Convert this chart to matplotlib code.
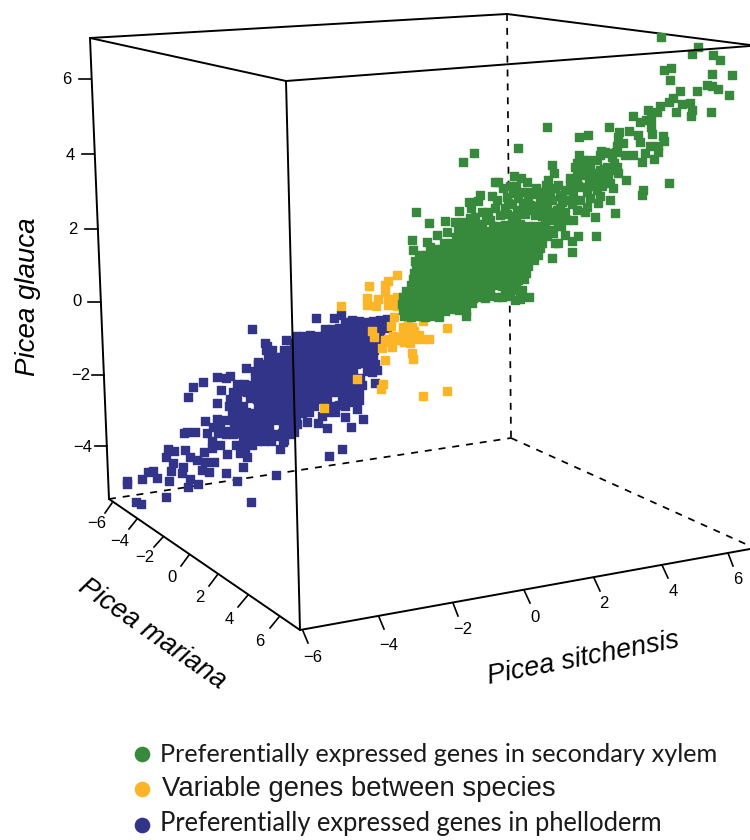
import matplotlib
matplotlib.use('Agg')
import matplotlib.pyplot as plt

# colours
GREEN = '#378A3C'
ORANGE = '#FDB528'
BLUE = '#32348A'

# points (horizontal, vertical position in the panel)
green_sparse = [
    (661,37),(698,47),(692,54),(713,55),(720,60),(671,68),(664,70),(712,74),(732,75),(670,80),
    (707,85),(712,86),(718,89),(697,91),(680,91),(729,95),(673,98),(669,102),(660,106),(682,104),
    (690,103),(692,110),(691,116),(711,112),(676,112),(657,112),(648,110),(633,116),(640,122),(651,119),
    (646,120),(651,127),(652,134),(609,127),(629,131),(619,132),(618,137),(638,135),(663,136),(664,141),
    (547,127),(588,135),(579,137),(518,148),(474,153),(463,162),(623,143),(617,146),(640,142),(650,146),
    (658,146),(601,151),(608,153),(625,155),(633,155),(645,153),(658,152),(654,159),(642,162),(579,155),
    (589,160),(552,165),(577,163),(600,155),(605,152),(612,157),(616,152),(597,160),(583,160),(614,163),
    (495,182),(498,182),(514,176),(521,178),(527,182),(536,188),(548,180),(554,173),(546,185),(570,178),
    (575,167),(583,175),(590,167),(593,175),(607,167),(617,167),(618,173),(626,180),(604,177),(610,183),
    (597,190),(613,188),(582,187),(589,183),(577,179),(565,190),(555,188),(550,193),(573,193),(580,200),
    (568,200),(562,202),(587,207),(577,210),(565,212),(557,210),(547,207),(540,210),(530,205),(523,203),
    (598,203),(610,200),(595,217),(615,213),(596,236),(578,236),(572,241),(572,252),(552,258),(565,235),
    (555,243),(558,243),(553,233),(567,220),(553,220),(545,223),(573,220),(643,190),(642,195),(669,183),
    (513,193),(507,197),(522,192),(528,192),(492,196),(480,195),(478,201),(469,202),(471,208),(459,211),
    (497,200),(495,208),(508,203),(517,210),(500,215),(475,217),(462,222),(445,221),(429,223),(416,212),
    (437,235),(447,232),(458,228),(412,240),(413,250),(427,242),(430,247),(529,297),(520,299),(515,300),
    (498,297),(485,298),(477,290),(600,170),(608,174),(586,168),(596,181),(602,186),(560,196),(572,204),
    (540,198),(535,215),(525,214),(512,218),(490,220),(482,224),(505,225),(520,224),(535,226),(548,214),
    (584,170),(591,174),(598,173),(604,169),(611,170),(577,172),(570,184),(578,186),(587,192),(593,186),
    (600,196),(590,198),(558,185),(562,195),(552,200),(543,192),(535,194),(528,199),(518,198),(503,188),
    (510,186),(516,186),(505,208),(512,204),(488,212),(482,212),(470,218),(467,224),(455,222),(542,216),
    (530,210),(560,208),(548,200),(538,206),(516,216),(523,208),(507,214),(493,226),(486,216),(575,200),
    (585,212),(558,218),(561,226),(552,212),
]

green_core = [
    (404,316),(411,317),(418,316),(425,317),(432,316),(439,317),(466,316),
    (403,310),(410,310),(417,309),(424,311),(431,310),(438,310),(445,311),(452,309),(459,310),(466,311),
    (402,304),(409,303),(416,304),(423,304),(430,303),(437,305),(444,304),(451,303),(458,304),(465,304),(472,303),
    (403,297),(410,298),(417,297),(424,298),(431,297),(438,298),(445,297),(452,297),(459,298),(466,297),(473,298),(480,297),(490,296),(502,297),(510,296),
    (406,291),(413,291),(420,292),(427,291),(434,291),(441,292),(448,291),(455,291),(462,292),(469,291),(476,291),(483,292),(490,291),(505,291),(513,290),(522,290),
    (411,285),(418,285),(425,285),(432,286),(439,285),(446,285),(453,285),(460,286),(467,285),(474,285),(481,286),(488,285),(495,285),(502,286),(509,285),(516,285),
    (413,279),(420,279),(427,280),(434,279),(441,279),(448,280),(455,279),(462,279),(469,280),(476,279),(483,279),(490,279),(497,280),(504,279),(511,279),(518,280),(524,279),
    (414,273),(421,273),(428,274),(435,273),(442,273),(449,273),(456,274),(463,273),(470,273),(477,274),(484,273),(491,273),(498,273),(505,274),(512,273),(519,273),(526,273),
    (416,267),(423,267),(430,267),(437,268),(444,267),(451,267),(458,267),(465,268),(472,267),(479,267),(486,268),(493,267),(500,267),(507,267),(514,268),(521,267),(528,266),
    (415,261),(422,261),(429,261),(436,261),(443,262),(450,261),(457,261),(464,261),(471,262),(478,261),(485,261),(492,261),(499,262),(506,261),(513,261),(520,261),(527,262),(534,260),
    (419,255),(426,255),(433,255),(440,256),(447,255),(454,255),(461,255),(468,255),(475,256),(482,255),(489,255),(496,255),(503,255),(510,256),(517,255),(524,255),(531,255),(538,255),
    (435,249),(442,249),(449,249),(456,250),(463,249),(470,249),(477,249),(484,250),(491,249),(498,249),(505,249),(512,250),(519,249),(526,249),(533,249),(540,248),
    (444,243),(451,243),(458,243),(465,244),(472,243),(479,243),(486,243),(493,244),(500,243),(507,243),(514,243),(521,243),(528,243),(535,243),(542,243),
    (456,237),(463,237),(470,237),(477,238),(484,237),(491,237),(498,237),(505,238),(512,237),(519,237),(526,237),(533,237),(540,236),(547,236),
    (466,231),(473,231),(480,231),(487,231),(494,232),(501,231),(508,231),(515,231),(522,232),(529,231),(536,231),(543,231),(550,230),
    (476,225),(497,226),(511,227),(528,226),(542,226),(558,226),
]

orange_points = [
    (397,275),(369,286),(388,281),(385,285),(385,292),(367,298),(367,305),(378,299),(376,306),(388,299),
    (388,305),(397,297),(397,306),(341,306),(394,317),(391,326),(423,321),(447,328),(408,325),(403,332),
    (413,333),(419,335),(408,335),(398,337),(388,339),(385,340),(423,339),(429,339),(398,340),(410,343),
    (392,347),(382,348),(412,353),(413,359),(385,360),(372,331),(374,337),(357,379),(383,384),(381,389),
    (423,396),(447,391),(407,330),(412,327),(403,327),(324,408),(393,336),(402,338),(416,339),(391,342),
    (404,342),(414,331),(410,338),
]

blue_sparse = [
    (252,329),(316,318),(334,318),(341,315),(286,340),(267,346),(272,350),(258,362),(246,368),(230,376),
    (217,377),(203,382),(193,387),(188,397),(221,390),(226,378),(217,403),(205,421),(217,419),(195,432),
    (187,432),(184,433),(168,449),(174,451),(166,457),(173,463),(171,471),(185,450),(190,457),(183,467),
    (182,473),(169,481),(157,478),(153,471),(148,472),(142,479),(127,481),(127,484),(136,502),(141,504),
    (166,497),(188,487),(190,479),(198,484),(202,470),(209,472),(197,460),(205,462),(214,462),(204,452),
    (212,448),(226,473),(237,481),(243,467),(276,475),(251,502),(227,454),(240,453),(247,457),(220,445),
    (207,433),(280,449),(283,442),(294,432),(329,456),(342,449),(363,419),(351,427),(327,428),(307,422),
    (357,409),(359,400),(345,417),(318,423),(375,383),(377,370),(212,441),(218,433),(226,431),(236,445),
    (245,449),(252,445),(258,441),(250,438),(278,436),(322,416),(335,412),(345,406),(352,402),
]

blue_core = [
    (345,322),(352,320),(359,321),(366,322),(373,321),(380,320),(387,319),
    (325,329),(332,329),(339,328),(346,329),(353,329),(360,328),(367,329),(374,329),(381,328),(387,328),
    (296,336),(303,336),(310,335),(317,336),(324,336),(331,335),(338,336),(345,336),(352,335),(359,336),(366,336),(373,335),(380,336),
    (265,343),(294,343),(301,343),(308,342),(315,343),(322,343),(329,342),(336,343),(343,343),(350,342),(357,343),(364,343),(371,342),(377,343),
    (266,350),(284,350),(290,350),(297,350),(304,349),(311,350),(318,350),(325,349),(332,350),(339,350),(346,349),(353,350),(360,350),(367,349),(374,350),
    (268,357),(275,357),(282,357),(289,357),(296,356),(303,357),(310,357),(317,356),(324,357),(331,357),(338,356),(345,357),(352,357),(359,356),(366,357),(373,357),
    (258,364),(265,364),(272,364),(279,363),(286,364),(293,364),(300,363),(307,364),(314,364),(321,363),(328,364),(335,364),(342,363),(349,364),(356,364),(363,363),(370,364),(375,364),
    (255,371),(262,371),(269,371),(276,370),(283,371),(290,371),(297,370),(304,371),(311,371),(318,370),(325,371),(332,371),(339,370),(346,371),(353,371),(367,371),(372,372),
    (255,378),(262,378),(269,378),(276,377),(283,378),(290,378),(297,377),(304,378),(311,378),(318,377),(325,378),(332,378),(339,377),(346,378),(353,378),(360,378),
    (237,384),(244,384),(251,385),(258,385),(265,385),(272,384),(279,385),(286,385),(293,384),(300,385),(307,385),(314,384),(321,385),(328,385),(335,384),(342,385),(349,385),(356,385),(362,385),
    (233,392),(240,391),(247,392),(254,392),(261,391),(268,392),(275,392),(282,391),(289,392),(296,392),(303,391),(310,392),(317,392),(324,391),(331,392),(338,392),(345,391),(352,392),(359,392),
    (230,399),(237,399),(250,398),(257,399),(264,399),(271,398),(278,399),(285,399),(292,398),(299,399),(306,399),(313,398),(320,399),(327,399),(342,398),(350,399),(358,398),
    (229,406),(236,405),(243,406),(258,406),(265,405),(272,406),(279,406),(286,405),(293,406),(300,406),(307,405),(314,406),(333,406),(339,405),
    (232,413),(239,413),(246,412),(253,413),(260,413),(267,412),(274,413),(281,413),(288,412),(295,413),(302,413),(309,412),(328,412),
    (226,420),(233,420),(240,419),(247,420),(254,420),(261,419),(268,420),(275,420),(282,419),(289,420),(296,420),
    (213,427),(220,426),(234,427),(241,427),(248,426),(255,427),(262,427),(269,426),(283,427),(290,427),(297,424),
    (226,434),(233,434),(240,433),(247,434),(254,434),(261,433),(268,434),(275,434),(282,433),(289,434),
    (243,441),(250,441),(257,440),(264,441),(271,441),(284,440),
]

# axis tick labels
glauca_labels = ['6', '4', '2', '0', '\u22122', '\u22124']
mariana_labels = ['\u22126', '\u22124', '\u22122', '0', '2', '4', '6']
sitchensis_labels = ['\u22126', '\u22124', '\u22122', '0', '2', '4', '6']

legend_labels = ['Preferentially expressed genes in secondary xylem',
                 'Variable genes between species',
                 'Preferentially expressed genes in phelloderm']

fig = plt.figure(figsize=(7.5, 8.4), dpi=100)
ax = fig.add_axes([0, 0, 1, 1])
ax.set_xlim(0, 750)
ax.set_ylim(840, 0)
ax.axis('off')

# box, back edges dashed, the front edges sit over the points
box_solid = [((90, 38), (507, 14)), ((90, 38), (286, 81)),
             ((507, 14), (750, 45)), ((90, 38), (109, 499)),
             ((109, 499), (300, 630)), ((300, 630), (750, 549))]
box_front = [((286, 81), (750, 46)), ((286, 81), (300, 630))]
box_dashed = [((507, 14), (511, 438)), ((109, 499), (511, 438)), ((511, 438), (750, 546))]
for a, b in box_solid:
    ax.plot([a[0], b[0]], [a[1], b[1]], color='black', lw=1.4, zorder=2, solid_capstyle='round')
for a, b in box_front:
    ax.plot([a[0], b[0]], [a[1], b[1]], color='black', lw=1.4, zorder=6, solid_capstyle='round')
for a, b in box_dashed:
    ax.plot([a[0], b[0]], [a[1], b[1]], color='black', lw=1.25, zorder=1, dashes=(4, 4))


def draw_points(points, colour, order):
    xs = [p[0] for p in points]
    ys = [p[1] for p in points]
    ax.scatter(xs, ys, s=30, marker='s', color=colour, linewidths=1.0, edgecolors=colour,
               joinstyle='round', zorder=order)


draw_points(blue_sparse + blue_core, BLUE, 3)
draw_points(orange_points, ORANGE, 4)
draw_points(green_core + green_sparse, GREEN, 5)

# ticks
glauca_ticks = [(79, 91, 79), (82, 94, 154), (85, 98, 229), (88, 101, 302), (92, 104, 375), (95, 107, 446)]
glauca_pos = [(67, 80), (70, 155), (73, 229), (77, 302), (81, 375), (83, 447)]
for t, p, lab in zip(glauca_ticks, glauca_pos, glauca_labels):
    ax.plot([t[0], t[1]], [t[2], t[2]], color='black', lw=1.2, zorder=2)
    ax.text(p[0], p[1], lab, ha='center', va='center', fontsize=12, family='Liberation Sans')

mariana_ticks = [(112, 503, 105, 513), (137, 519, 129, 529), (163, 537, 154, 547), (189, 555, 181, 566),
                 (218, 574, 209, 586), (248, 595, 238, 607), (279, 617, 270, 628)]
mariana_pos = [(97, 523), (120, 541), (145, 558), (172, 577), (200, 597), (229, 619), (260, 641)]
for t, p, lab in zip(mariana_ticks, mariana_pos, mariana_labels):
    ax.plot([t[0], t[2]], [t[1], t[3]], color='black', lw=1.2, zorder=2)
    ax.text(p[0], p[1], lab, ha='center', va='center', fontsize=12, family='Liberation Sans')

sitchensis_ticks = [(303, 631, 308, 643), (379, 617, 384, 629), (453, 603, 458, 616), (524, 590, 530, 603),
                    (594, 578, 600, 591), (662, 565, 668, 578), (728, 553, 733, 566)]
sitchensis_pos = [(313, 658), (389, 645), (463, 630), (535, 617), (604, 604), (673, 591), (738, 579)]
for t, p, lab in zip(sitchensis_ticks, sitchensis_pos, sitchensis_labels):
    ax.plot([t[0], t[2]], [t[1], t[3]], color='black', lw=1.2, zorder=2)
    ax.text(p[0], p[1], lab, ha='center', va='center', fontsize=12, family='Liberation Sans')

# axis titles
ax.text(28, 297, 'Picea glauca', rotation=90, ha='center', va='center', fontsize=20,
        style='italic', family='Liberation Sans')
ax.text(152, 634, 'Picea mariana', rotation=-35, rotation_mode='anchor', ha='center', va='center',
        fontsize=19.5, style='italic', family='Liberation Sans')
ax.text(583, 659, 'Picea sitchensis', rotation=11, rotation_mode='anchor', ha='center', va='center',
        fontsize=19.5, style='italic', family='Liberation Sans')

# legend
ax.scatter([142], [754], s=105, marker='o', color=GREEN)
ax.scatter([142], [789], s=105, marker='o', color=ORANGE)
ax.scatter([142], [825], s=105, marker='o', color=BLUE)
ax.text(160, 754, legend_labels[0], va='center', ha='left', fontsize=18.2, family='Lato', color='#1a1a1a')
ax.text(162, 789, legend_labels[1], va='center', ha='left', fontsize=19.8, family='Liberation Sans', color='#1a1a1a')
ax.text(160, 824, legend_labels[2], va='center', ha='left', fontsize=18.4, family='Lato', color='#1a1a1a')

fig.savefig('out.png', dpi=100)
